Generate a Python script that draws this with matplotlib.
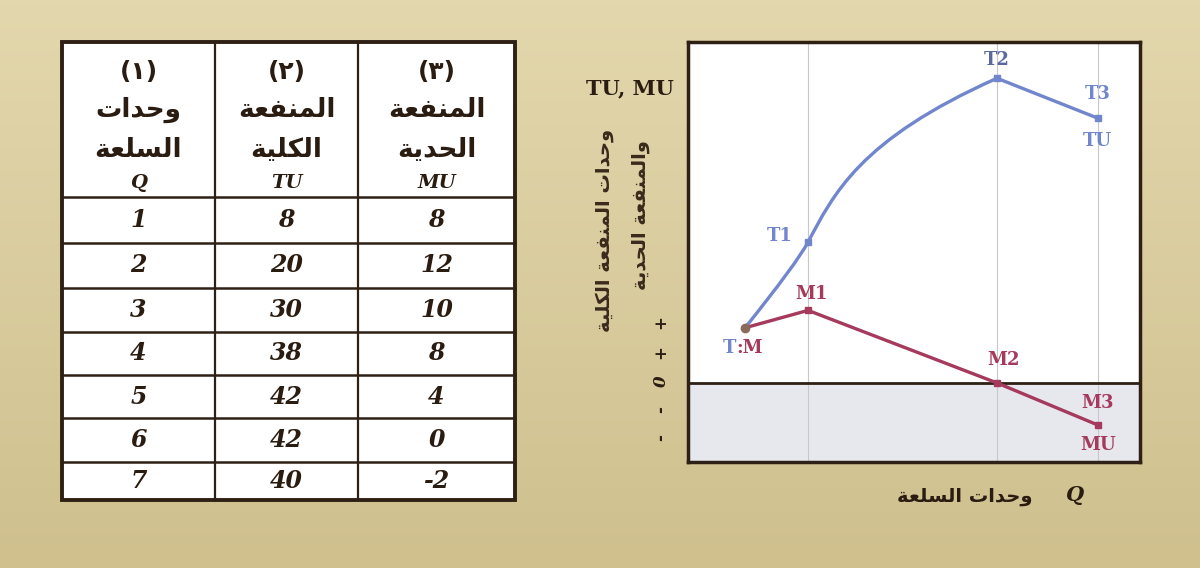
import numpy as np
import matplotlib.pyplot as plt
from matplotlib.patches import Rectangle
from matplotlib.path import Path
from matplotlib.patches import PathPatch

# table data
q_units = [1, 2, 3, 4, 5, 6, 7]
tu_vals = [8, 20, 30, 38, 42, 42, 40]
mu_vals = [8, 12, 10, 8, 4, 0, -2]
col_nums = ['(١)', '(٢)', '(٣)']
col_heads = [['وحدات', 'السلعة'], ['المنفعة', 'الكلية'], ['المنفعة', 'الحدية']]
col_syms = ['Q', 'TU', 'MU']

# schematic chart points (origin, point 1, point 2, point 3)
chart_x = [0, 1, 4, 5.6]
chart_tu = [7.6, 19.4, 42, 36.5]
chart_mu = [7.6, 10.0, 0, -5.8]

# minimal arabic shaping -> presentation forms, visual order
FORMS = {  # isolated, final, initial, medial
    'ا': ('\ufe8d', '\ufe8e', None, None),
    'ة': ('\ufe93', '\ufe94', None, None),
    'ت': ('\ufe95', '\ufe96', '\ufe97', '\ufe98'),
    'ح': ('\ufea1', '\ufea2', '\ufea3', '\ufea4'),
    'د': ('\ufea9', '\ufeaa', None, None),
    'س': ('\ufeb1', '\ufeb2', '\ufeb3', '\ufeb4'),
    'ع': ('\ufec9', '\ufeca', '\ufecb', '\ufecc'),
    'ف': ('\ufed1', '\ufed2', '\ufed3', '\ufed4'),
    'ك': ('\ufed9', '\ufeda', '\ufedb', '\ufedc'),
    'ل': ('\ufedd', '\ufede', '\ufedf', '\ufee0'),
    'م': ('\ufee1', '\ufee2', '\ufee3', '\ufee4'),
    'ن': ('\ufee5', '\ufee6', '\ufee7', '\ufee8'),
    'و': ('\ufeed', '\ufeee', None, None),
    'ي': ('\ufef1', '\ufef2', '\ufef3', '\ufef4'),
}

def shape(s):
    out = []
    for i, ch in enumerate(s):
        f = FORMS.get(ch)
        if f is None:
            out.append(ch)
            continue
        prev = s[i - 1] if i > 0 else ''
        nxt = s[i + 1] if i + 1 < len(s) else ''
        jp = prev in FORMS and FORMS[prev][2] is not None
        jn = f[2] is not None and nxt in FORMS
        if jp and jn:
            out.append(f[3])
        elif jp:
            out.append(f[1])
        elif jn:
            out.append(f[2])
        else:
            out.append(f[0])
    return ''.join(reversed(out))

BG = '#dccf9f'
BORDER = '#2e2014'
INK = '#2a1c10'
BLUE = '#7186cc'
RED = '#a53a5c'
AR = ['DejaVu Sans']
SERIF = ['DejaVu Serif']

fig = plt.figure(figsize=(12, 5.68), dpi=100, facecolor=BG)
bg = fig.add_axes([0, 0, 1, 1])
bg.set_xlim(0, 1200)
bg.set_ylim(568, 0)
bg.axis('off')

# paper tone, a bit darker towards the bottom
grad = np.linspace(0, 1, 100).reshape(-1, 1)
bg.imshow(grad, cmap=plt.matplotlib.colors.LinearSegmentedColormap.from_list('g', ['#e3d7ad', '#cfc08e']),
          extent=[0, 1200, 568, 0], aspect='auto', zorder=0)

# ---- table ----
col_edges = [62, 215, 358, 515]
row_edges = [42, 197, 243, 288, 332, 375, 418, 462, 500]
bg.add_patch(Rectangle((62, 42), 453, 458, facecolor='white', edgecolor='none', zorder=1))
for y in row_edges[1:-1]:
    bg.plot([62, 515], [y, y], color=BORDER, lw=1.8, zorder=2)
for x in col_edges[1:-1]:
    bg.plot([x, x], [42, 500], color=BORDER, lw=1.6, zorder=2)
bg.add_patch(Rectangle((62, 42), 453, 458, facecolor='none', edgecolor=BORDER, lw=2.8, zorder=3))

for c in range(3):
    cx = (col_edges[c] + col_edges[c + 1]) / 2
    bg.text(cx, 72, col_nums[c], ha='center', va='center', fontsize=18, fontweight='bold',
            family=AR, color=INK, zorder=4)
    bg.text(cx, 110, shape(col_heads[c][0]), ha='center', va='center', fontsize=19,
            fontweight='bold', family=AR, color=INK, zorder=4)
    bg.text(cx, 150, shape(col_heads[c][1]), ha='center', va='center', fontsize=19,
            fontweight='bold', family=AR, color=INK, zorder=4)
    bg.text(cx, 183, col_syms[c], ha='center', va='center', fontsize=14, fontweight='bold',
            style='italic', family=SERIF, color=INK, zorder=4)

for r in range(len(q_units)):
    cy = (row_edges[r + 1] + row_edges[r + 2]) / 2
    for c, v in enumerate([q_units[r], tu_vals[r], mu_vals[r]]):
        cx = (col_edges[c] + col_edges[c + 1]) / 2
        bg.text(cx, cy, str(v), ha='center', va='center', fontsize=17, fontweight='bold',
                style='italic', family=SERIF, color=INK, zorder=4)

# ---- chart ----
ax = fig.add_axes([688 / 1200, (568 - 462) / 568, (1140 - 688) / 1200, (462 - 42) / 568])
ax.set_xlim(-0.905, 6.27)
ax.set_ylim(-10.9, 47.0)
ax.set_facecolor('white')
ax.axhspan(-10.9, 0, color='#e6e8ee', zorder=0)
for x in chart_x[1:]:
    ax.axvline(x, color='#c8c8c8', lw=0.8, zorder=1)
ax.axhline(0, color=BORDER, lw=2.0, zorder=2)
ax.set_xticks([])
ax.set_yticks([])
for s in ax.spines.values():
    s.set_color(BORDER)
    s.set_linewidth(2.5)

# TU: smooth S-bend through point 1 into point 2, then straight to point 3
x0, x1, x2, x3 = chart_x
y0, y1, y2, y3 = chart_tu
tx, ty = 0.4, 6.5   # tangent at point 1
q0 = (x1 - 0.45 * tx, y1 - 0.45 * ty)
c1 = (x1 + tx, y1 + ty)
c2 = (x2 - 2.2, y2 - 8.5)
verts = [(x0, y0), q0, (x1, y1), c1, c2, (x2, y2), (x3, y3)]
codes = [Path.MOVETO, Path.CURVE3, Path.CURVE3, Path.CURVE4, Path.CURVE4, Path.CURVE4, Path.LINETO]
ax.add_patch(PathPatch(Path(verts, codes), facecolor='none', edgecolor=BLUE, lw=2.4,
                       capstyle='round', joinstyle='round', zorder=3))
ax.plot(chart_x[1:], chart_tu[1:], 's', color=BLUE, ms=5, zorder=4)

ax.plot(chart_x, chart_mu, '-', color=RED, lw=2.4, solid_joinstyle='round', zorder=3)
ax.plot(chart_x[1:], chart_mu[1:], 's', color=RED, ms=5, zorder=4)
ax.plot(chart_x[0], chart_mu[0], 'o', color='#8a6a5a', ms=6, zorder=5)

lab = dict(fontsize=13, fontweight='bold', family=SERIF, va='center', zorder=6)
ax.text(chart_x[1] - 0.45, chart_tu[1] + 0.8, 'T1', color=BLUE, ha='center', **lab)
ax.text(chart_x[2], chart_tu[2] + 2.5, 'T2', color='#5a6aa0', ha='center', **lab)
ax.text(chart_x[3], chart_tu[3] + 3.3, 'T3', color=BLUE, ha='center', **lab)
ax.text(chart_x[3], chart_tu[3] - 3.2, 'TU', color=BLUE, ha='center', **lab)
ax.text(chart_x[1] + 0.06, chart_mu[1] + 2.3, 'M1', color=RED, ha='center', **lab)
ax.text(chart_x[2] + 0.1, chart_mu[2] + 3.2, 'M2', color=RED, ha='center', **lab)
ax.text(chart_x[3], chart_mu[3] + 3.1, 'M3', color=RED, ha='center', **lab)
ax.text(chart_x[3], chart_mu[3] - 2.8, 'MU', color=RED, ha='center', **lab)
ax.text(chart_x[0] - 0.14, chart_mu[0] - 2.8, 'T', color=BLUE, ha='right', **lab)
ax.text(chart_x[0] - 0.14, chart_mu[0] - 2.8, ':M', color=RED, ha='left', **lab)

# axis texts around chart
bg.text(630, 88, 'TU, MU', ha='center', va='center', fontsize=15, fontweight='bold',
        family=SERIF, color=INK)
bg.text(605, 230, shape('وحدات المنفعة الكلية'), rotation=90, ha='center', va='center',
        fontsize=14, fontweight='bold', family=AR, color='#3a2a1c')
bg.text(640, 215, shape('والمنفعة الحدية'), rotation=90, ha='center', va='center',
        fontsize=14, fontweight='bold', family=AR, color='#3a2a1c')
for ys, t in zip([322, 352, 381, 410, 438], ['+', '+', '0', '-', '-']):
    bg.text(661, ys, t, rotation=90, ha='center', va='center', fontsize=12,
            fontweight='bold', style='italic', family=SERIF, color=INK)
bg.text(1075, 495, 'Q', ha='center', va='center', fontsize=15, fontweight='bold',
        style='italic', family=SERIF, color=INK)
bg.text(965, 497, shape('وحدات السلعة'), ha='center', va='center', fontsize=14,
        fontweight='bold', family=AR, color=INK)

fig.savefig('out.png', dpi=100, facecolor=BG)
